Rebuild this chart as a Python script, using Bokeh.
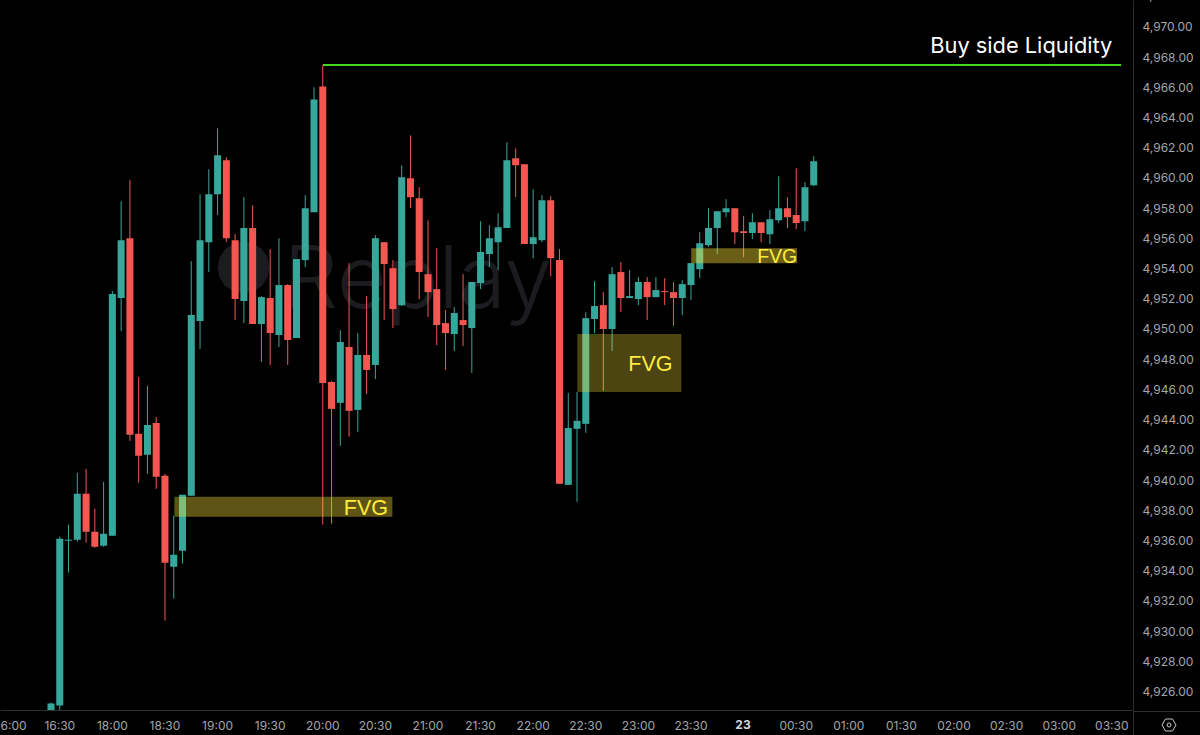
from bokeh.plotting import figure
from bokeh.layouts import column
from bokeh.embed import file_html
from bokeh.resources import INLINE
from bokeh.models import (ColumnDataSource, Range1d, FixedTicker, NumeralTickFormatter,
                          Label, PolyAnnotation, Div)
from bokeh.core.properties import value

# OHLC, one bar every 5 minutes (bar number = position in the lists)
opens = [4924.28,4925.07,4935.98,4936.05,4939.09,4936.58,4935.65,4936.31,4952.05,4956.01,4943.06,4941.67,4943.78,4940.28,4934.26,4935.32,
 4938.96,4950.53,4955.75,4958.92,4961.17,4955.88,4951.85,4956.68,4950.33,4952.05,4949.60,4952.91,4949.40,4954.56,4957.73,4966.06,
 4946.49,4945.11,4948.81,4944.64,4948.28,4947.62,4955.75,4954.03,4951.58,4959.98,4958.66,4953.63,4952.64,4950.39,4949.67,4950.59,
 4950.06,4953.04,4954.96,4955.75,4956.68,4961.30,4960.91,4955.62,4955.88,4958.53,4954.56,4939.68,4943.39,4943.72,4950.66,4951.58,
 4950.00,4953.77,4952.05,4951.98,4953.11,4952.11,4952.51,4952.44,4952.05,4952.91,4953.96,4955.55,4956.68,4957.73,4958.00,4956.48,
 4956.35,4957.07,4956.28,4957.20,4958.00,4957.54,4957.14,4959.52]
highs = [4925.27,4936.25,4937.04,4940.48,4940.74,4938.10,4939.88,4952.51,4958.46,4959.85,4946.82,4946.23,4944.18,4940.41,4937.63,4939.02,
 4954.49,4958.92,4960.58,4963.29,4961.37,4956.28,4958.73,4958.20,4952.18,4955.29,4956.01,4952.97,4954.63,4958.86,4966.00,4967.45,
 4946.56,4949.93,4954.36,4949.73,4952.18,4956.21,4955.75,4954.56,4960.84,4962.82,4959.39,4957.20,4955.35,4951.25,4951.45,4953.63,
 4953.11,4957.14,4956.87,4957.67,4962.36,4961.96,4960.91,4959.25,4958.86,4958.79,4955.29,4945.77,4945.83,4951.12,4953.17,4952.44,
 4954.10,4954.43,4953.90,4953.44,4953.44,4953.44,4953.37,4953.11,4953.24,4954.36,4956.41,4958.00,4957.80,4958.59,4958.00,4957.47,
 4957.67,4957.07,4957.87,4960.11,4958.73,4960.64,4959.72,4961.44]
lows = [4924.15,4924.54,4933.87,4935.92,4935.85,4935.52,4935.58,4936.31,4949.87,4942.59,4939.82,4940.41,4939.42,4930.69,4932.15,4934.46,
 4938.96,4948.68,4953.77,4957.54,4955.75,4950.59,4950.39,4950.33,4947.82,4947.62,4948.81,4947.62,4949.40,4954.10,4957.73,4937.04,
 4937.11,4942.26,4942.86,4943.19,4945.70,4946.69,4950.59,4950.06,4951.52,4958.00,4951.98,4950.79,4948.94,4947.29,4948.54,4948.87,
 4947.09,4952.64,4954.10,4953.90,4956.68,4958.73,4955.62,4954.69,4955.75,4953.50,4939.75,4939.68,4938.56,4943.12,4949.73,4945.90,
 4948.54,4951.12,4952.05,4951.58,4950.59,4952.11,4951.58,4950.20,4950.92,4951.92,4953.37,4955.42,4954.96,4957.40,4955.62,4954.76,
 4955.95,4955.75,4955.62,4957.01,4956.68,4956.61,4956.48,4959.45]
closes = [4925.20,4936.11,4936.05,4939.09,4936.58,4935.58,4936.44,4952.31,4955.88,4942.99,4941.60,4943.65,4940.21,4934.53,4935.06,4939.02,
 4950.92,4955.88,4958.92,4961.50,4956.01,4951.98,4956.68,4950.33,4952.11,4949.73,4952.91,4949.27,4954.63,4958.00,4965.20,4946.43,
 4944.71,4949.14,4944.58,4948.28,4947.29,4956.01,4954.30,4951.32,4960.05,4958.73,4953.77,4952.44,4950.26,4949.73,4951.06,4950.26,
 4953.11,4955.09,4956.01,4956.74,4961.17,4960.84,4955.62,4956.08,4958.53,4954.69,4939.75,4943.45,4943.92,4950.72,4951.52,4950.00,
 4953.63,4952.05,4952.18,4953.11,4952.11,4952.58,4952.44,4952.05,4952.97,4954.36,4955.68,4956.68,4957.80,4958.00,4956.41,4956.35,
 4957.07,4956.35,4957.27,4958.00,4957.40,4957.01,4959.39,4961.11]

# Time axis: a label every 6 bars, first one (cut by the left edge) at bar -5
time_labels = ["6:00","16:30","18:00","18:30","19:00","19:30","20:00","20:30","21:00","21:30","22:00","22:30",
               "23:00","23:30","","00:30","01:00","01:30","02:00","02:30","03:00","03:30"]
day_label = "23"
top_price_label = "4,972.00"
price_ticks = [4926,4928,4930,4932,4934,4936,4938,4940,4942,4944,4946,4948,4950,4952,4954,4956,4958,4960,4962,4964,4966,4968,4970]

# Fair value gaps: start bar, end bar, upper price, lower price, opacity
fvg_left = [14.08, 60.03, 73.03]
fvg_right = [38.94, 71.9, 85.1]
fvg_top = [4938.89, 4949.67, 4955.35]
fvg_bottom = [4937.57, 4945.83, 4954.36]
fvg_alpha = [0.37, 0.30, 0.42]
fvg_label_x = [33.4, 65.85, 80.55]
fvg_label_y = [4938.13, 4947.7, 4954.8]
fvg_label_size = ["21.5px", "21.5px", "19.5px"]

liq_start, liq_end, liq_price = 31, 122.06, 4967.485

TEAL, RED = "#37A79C", "#F45752"
UP = [c >= o for o, c in zip(opens, closes)]
src = ColumnDataSource(dict(
    x=list(range(len(opens))), o=opens, h=highs, l=lows, c=closes,
    top=[max(a, b) for a, b in zip(opens, closes)],
    bot=[min(a, b) for a, b in zip(opens, closes)],
    col=[TEAL if u else RED for u in UP]))

W, H, RIGHT, BOTTOM = 1200, 735, 67, 24
FH = H - BOTTOM
BAR = 8.767
x0 = -5.76
y_lo, y_hi = 4924.74, 4971.75
p = figure(width=W, height=H, output_backend="svg", toolbar_location=None,
           x_range=Range1d(x0, x0 + (W - RIGHT) / BAR), y_range=Range1d(y_lo, y_hi),
           y_axis_location="right", background_fill_color="#000000", border_fill_color="#000000",
           min_border_left=0, min_border_top=0, min_border_right=RIGHT, min_border_bottom=BOTTOM,
           outline_line_color=None)
p.styles = {"position": "fixed", "left": "0px", "top": "0px", "background-color": "#000000"}
p.grid.visible = False

GREY = "#a3a6ac"
DIV = "#2e2e2e"
p.xaxis.ticker = FixedTicker(ticks=[-5 + 6 * i for i in range(len(time_labels))])
p.xaxis.major_label_overrides = {-5 + 6 * i: t for i, t in enumerate(time_labels)}
p.yaxis.ticker = FixedTicker(ticks=price_ticks)
p.yaxis.formatter = NumeralTickFormatter(format="0,0.00")
for ax in (p.xaxis[0], p.yaxis[0]):
    ax.axis_line_color = DIV
    ax.major_tick_line_color = None
    ax.minor_tick_line_color = None
    ax.major_tick_out = 0
    ax.major_tick_in = 0
    ax.minor_tick_out = 0
    ax.minor_tick_in = 0
    ax.major_label_text_color = GREY
    ax.major_label_text_font = "Inter"
    ax.major_label_text_font_size = "12px"
p.xaxis.major_label_standoff = 7
p.yaxis.major_label_standoff = 9

# watermark
WM = "#1b1c1f"
p.add_layout(PolyAnnotation(xs=[243 + 26 * dx for dx in (1,.92,.71,.38,0,-.38,-.71,-.92,-1,-.92,-.71,-.38,0,.38,.71,.92)],
                            ys=[FH - 268 + 26 * dy for dy in (0,.38,.71,.92,1,.92,.71,.38,0,-.38,-.71,-.92,-1,-.92,-.71,-.38)],
                            xs_units="screen", ys_units="screen", fill_color=WM, fill_alpha=1, line_color=None, level="underlay"))
p.add_layout(Label(x=283, y=FH - 305 + 28, x_units="screen", y_units="screen", text="Replay", text_color=WM,
                   text_font="Inter Light", text_font_size="86px", text_baseline="alphabetic", level="underlay"))

# candles
p.segment("x", "l", "x", "h", source=src, line_color="col", line_width=1)
p.vbar(x="x", top="top", bottom="bot", width=0.8, source=src, fill_color="col", line_color=None)

# fair value gaps
p.quad(left=fvg_left, right=fvg_right, top=fvg_top, bottom=fvg_bottom, fill_color="#FFE339",
       fill_alpha=fvg_alpha, line_color=None)
for lx, ly, sz in zip(fvg_label_x, fvg_label_y, fvg_label_size):
    p.text([lx], [ly], text=["FVG"], text_color="#FFEB3B", text_font=value("Liberation Sans"),
           text_font_size=value(sz), text_baseline="middle", text_align="left")

# buy side liquidity
p.line([liq_start, liq_end], [liq_price, liq_price], line_color="#44D81E", line_width=2)
p.text([liq_end - 1], [liq_price + 1.345], text=["Buy side Liquidity"], text_color="#FFFFFF",
       text_font=value("Inter"), text_font_size=value("21.8px"), text_baseline="middle", text_align="right")

# texts that fall outside the plot frame
text_css = {"position": "fixed", "z-index": "10", "margin": "0", "font-family": "Inter", "font-size": "12px", "line-height": "14px"}
day = Div(text=day_label, width=30, height=14,
          styles={**text_css, "left": "728px", "top": "718px", "color": "#d1d4dc", "font-weight": "bold", "text-align": "center"})
top_price = Div(text=top_price_label, width=60, height=14,
                styles={**text_css, "left": "1142px", "top": "-11px", "color": GREY})

# corner cell: axis dividers meeting, and the settings hexagon (page furniture, not data)
corner = Div(width=RIGHT, height=BOTTOM,
             styles={"position": "fixed", "z-index": "10", "margin": "0", "left": f"{W - RIGHT}px", "top": f"{FH}px"},
             text=f'<svg width="{RIGHT}" height="{BOTTOM}" style="display:block">'
                  f'<path d="M0.5 0V{BOTTOM}M0 0.5H{RIGHT}" stroke="{DIV}" fill="none"/>'
                  '<path d="M29 14L32.5 8H39.5L43 14L39.5 20H32.5Z" stroke="#c8c8c8" fill="none"/>'
                  '<circle cx="36" cy="14" r="2" stroke="#c8c8c8" fill="none"/></svg>')

open("out.html", "w").write(file_html(column(p, day, top_price, corner), INLINE))
